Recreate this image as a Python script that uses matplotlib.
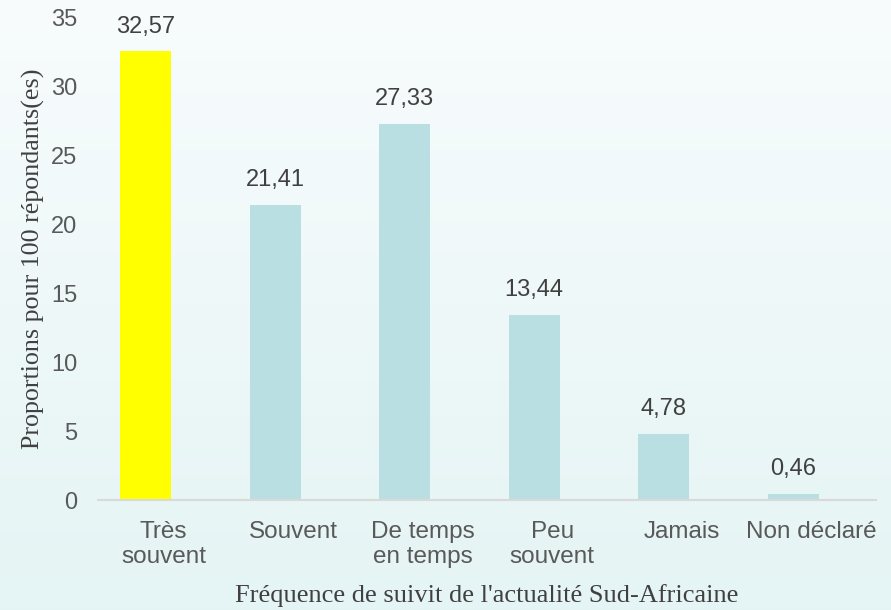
import matplotlib.pyplot as plt
import matplotlib.transforms as mtransforms
import numpy as np

categories = ["Très\nsouvent", "Souvent", "De temps\nen temps", "Peu\nsouvent", "Jamais", "Non déclaré"]
values = [32.57, 21.41, 27.33, 13.44, 4.78, 0.46]
value_labels = ["32,57", "21,41", "27,33", "13,44", "4,78", "0,46"]
bar_colors = ["#FFFF00", "#B9DFE3", "#B9DFE3", "#B9DFE3", "#B9DFE3", "#B9DFE3"]
yticks = [0, 5, 10, 15, 20, 25, 30, 35]

fig = plt.figure(figsize=(8.91, 6.1), dpi=100)

# background gradient, near white on top to light mint at the bottom
bg = fig.add_axes([0, 0, 1, 1], zorder=-10)
top = np.array([0.972, 0.988, 0.992])
bottom = np.array([0.898, 0.957, 0.957])
t = np.linspace(0, 1, 256)[:, None]
grad = top + (bottom - top) * t
bg.imshow(grad[:, None, :], aspect="auto", extent=[0, 1, 0, 1])
bg.axis("off")

ax = fig.add_axes([0.110, 0.1803, 0.873, 0.7902])
ax.patch.set_alpha(0)
x = np.arange(len(categories))
ax.bar(x, values, width=0.394, color=bar_colors, zorder=2)
for xi, v, lab in zip(x, values, value_labels):
    ax.annotate(lab, (xi, v), xytext=(0, 10), textcoords="offset points",
                ha="center", va="bottom", fontsize=17, color="#404040",
                family="Liberation Sans")

ax.set_xlim(-0.367, 5.637)
ax.set_ylim(0, 35)
ax.set_yticks(yticks)
ax.set_xticks(x)
ax.set_xticklabels(categories, family="Liberation Sans", fontsize=17.5, color="#595959",
                   linespacing=1.2)
ax.set_yticklabels([str(v) for v in yticks], family="Liberation Sans", fontsize=17,
                   color="#595959")
ax.tick_params(axis="both", length=0)
ax.tick_params(axis="x", pad=15)
ax.tick_params(axis="y", pad=15)
# category labels sit a little to the right of the bars
shift = mtransforms.ScaledTranslation(0.18, 0, fig.dpi_scale_trans)
for lbl in ax.get_xticklabels():
    lbl.set_transform(lbl.get_transform() + shift)
for s in ["top", "right", "left"]:
    ax.spines[s].set_visible(False)
ax.spines["bottom"].set_color("#D9D9D9")
ax.spines["bottom"].set_linewidth(1.5)

ax.set_xlabel("Fréquence de suivit de l'actualité Sud-Africaine", family="Liberation Serif",
              fontsize=19, color="#404040", labelpad=11)
ax.set_ylabel("Proportions pour 100 répondants(es)", family="Liberation Serif",
              fontsize=18.7, color="#404040", labelpad=4)

fig.savefig("out.png", dpi=100)
